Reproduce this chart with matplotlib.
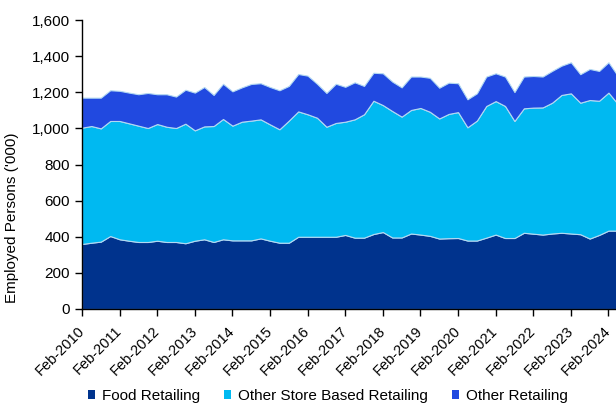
import matplotlib
matplotlib.use("Agg")
import matplotlib.pyplot as plt
from matplotlib.patches import Patch
import numpy as np
import pandas as pd

plt.rcParams["font.family"] = ["Liberation Sans", "DejaVu Sans"]

# quarterly employment ('000), Feb-2010 .. May-2024
quarters = pd.date_range("2010-02-01", periods=58, freq="3MS")
food = [360, 367, 373, 404, 386, 378, 371, 371, 378, 371, 371, 364, 378, 386, 371,
        386, 380, 380, 380, 391, 378, 367, 367, 400, 400, 400, 400, 400, 410, 395,
        395, 415, 426, 396, 396, 418, 412, 405, 390, 392, 393, 379, 379, 395, 412,
        393, 393, 422, 417, 412, 418, 422, 418, 414, 390, 410, 434, 434]
other_store = [644, 646, 627, 637, 655, 650, 644, 631, 646, 638, 631, 662, 611, 625,
               642, 666, 635, 657, 663, 659, 644, 628, 676, 694, 678, 659, 609, 630,
               627, 655, 683, 738, 703, 700, 669, 684, 701, 687, 665, 688, 697, 627,
               664, 729, 739, 731, 648, 689, 698, 704, 724, 763, 776, 728, 767, 743,
               764, 701]
other_ret = [166, 157, 170, 170, 167, 170, 174, 194, 165, 180, 174, 188, 209, 218, 172,
             195, 190, 190, 203, 200, 207, 216, 192, 207, 214, 188, 187, 217, 193, 205,
             157, 155, 176, 163, 162, 185, 174, 188, 170, 173, 160, 155, 151, 163, 154,
             163, 160, 176, 175, 171, 176, 162, 172, 158, 172, 165, 168, 155]
series_names = ["Food Retailing", "Other Store Based Retailing", "Other Retailing"]
colors = ["#00338d", "#00b9f1", "#2149e0"]

x = np.arange(len(quarters))
tick_idx = x[quarters.month == 2]
tick_labels = [d.strftime("%b-%Y") for d in quarters[tick_idx]]

fig = plt.figure(figsize=(6.16, 4.03), dpi=100)
ax = fig.add_axes([82 / 616, 1 - 309 / 403, 1 - 82 / 616, (309 - 20) / 403])

ax.stackplot(x, food, other_store, other_ret, colors=colors,
             edgecolor="#b3d9f2", linewidth=0.8)

ax.set_xlim(0, 56.8)
ax.set_ylim(0, 1600)
ax.set_yticks(np.arange(0, 1601, 200))
ax.yaxis.set_major_formatter(matplotlib.ticker.FuncFormatter(lambda v, _: f"{v:,.0f}"))
ax.set_xticks(tick_idx)
ax.set_xticklabels(tick_labels, rotation=45, ha="right", va="center",
                   rotation_mode="anchor", fontsize=10.5)
ax.tick_params(axis="y", labelsize=11, length=5, width=1, direction="out")
ax.tick_params(axis="x", length=5, width=1, direction="out", pad=9)
for side in ("top", "right"):
    ax.spines[side].set_visible(False)
for side in ("left", "bottom"):
    ax.spines[side].set_linewidth(1)
    ax.spines[side].set_zorder(5)

fig.text(12.5 / 616, 1 - 218 / 403, "Employed Persons ('000)", rotation=90,
         ha="center", va="center", fontsize=11)

handles = [Patch(facecolor=c, edgecolor="none") for c in colors]
fig.legend(handles, series_names, loc="center left",
           bbox_to_anchor=(88 / 616, 7 / 403), ncol=3, frameon=False,
           fontsize=11, handlelength=0.45, handleheight=0.45,
           handletextpad=0.45, columnspacing=1.6, borderpad=0, borderaxespad=0)

fig.savefig("out.png", dpi=100)
